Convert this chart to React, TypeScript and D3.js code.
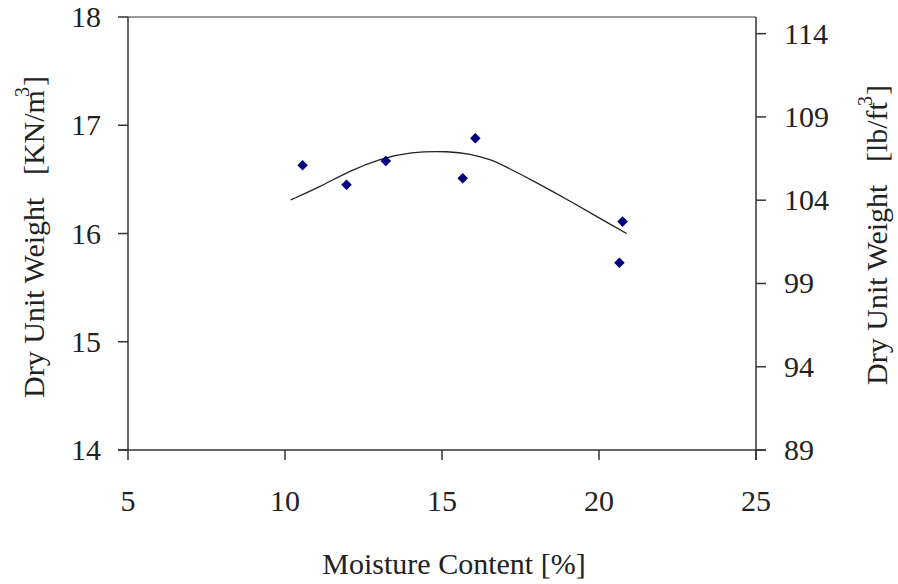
import * as d3 from "d3";

// moisture content [%] vs dry unit weight [kN/m3]
const moisture = [10.56, 11.96, 13.21, 15.66, 16.06, 20.65, 20.75];
const dryWeight = [16.63, 16.45, 16.67, 16.51, 16.88, 15.73, 16.11];

// trend curve
const trendX = [10.18, 11.11, 12.07, 13.03, 13.98, 15.25, 15.89, 16.53, 16.95, 18.02, 19.08, 20.14, 20.88];
const trendY = [16.31, 16.43, 16.58, 16.69, 16.755, 16.76, 16.735, 16.685, 16.63, 16.47, 16.3, 16.12, 16.0];

const xTicks = [5, 10, 15, 20, 25];
const leftTicks = [14, 15, 16, 17, 18];
const rightTicks = [89, 94, 99, 104, 109, 114];

const W = 898;
const H = 584;
const L = 128;
const R = 756;
const T = 17;
const B = 450;
const FONT = "'Liberation Serif', 'Times New Roman', serif";
const INK = "#222";

const x = d3.scaleLinear().domain([5, 25]).range([L, R]);
const y = d3.scaleLinear().domain([14, 18]).range([B, T]);
const y2 = d3.scaleLinear().domain([89, 115]).range([B, T]);

const trend = d3
  .line<number>()
  .x((d) => x(d))
  .y((_, i) => y(trendY[i]))
  .curve(d3.curveBasis);

const diamond = d3.symbol().type(d3.symbolSquare).size(56)();

export default function App() {
  return (
    <svg
      width={W}
      height={H}
      viewBox={`0 0 ${W} ${H}`}
      style={{ position: "absolute", left: 0, top: 0, background: "#fff" }}
      fontFamily={FONT}
    >
      {/* frame */}
      <line x1={L} x2={R} y1={T} y2={T} stroke="#777" strokeWidth={1.5} />
      <line x1={L - 10} x2={R + 10} y1={B} y2={B} stroke="#333" strokeWidth={1.5} />
      <line x1={L} x2={L} y1={T} y2={B} stroke="#333" strokeWidth={1.5} />
      <line x1={R} x2={R} y1={T} y2={B + 10} stroke="#333" strokeWidth={1.5} />

      {/* x axis */}
      {xTicks.map((t) => (
        <g key={`x${t}`}>
          <line x1={x(t)} x2={x(t)} y1={B} y2={B + 10} stroke="#333" strokeWidth={1.5} />
          <text x={x(t)} y={511} textAnchor="middle" fontSize={30} fill={INK}>
            {t}
          </text>
        </g>
      ))}
      <text x={454} y={574} textAnchor="middle" fontSize={30} fill={INK}>
        Moisture Content [%]
      </text>

      {/* left axis */}
      {leftTicks.map((t) => (
        <g key={`l${t}`}>
          <line x1={L - 10} x2={L} y1={y(t)} y2={y(t)} stroke="#333" strokeWidth={1.5} />
          <text x={101} y={y(t) + 10} textAnchor="end" fontSize={30} fill={INK}>
            {t}
          </text>
        </g>
      ))}
      <text
        transform={`translate(44,237) rotate(-90)`}
        textAnchor="middle"
        fontSize={30}
        fill={INK}
        style={{ whiteSpace: "pre" }}
      >
        {"Dry Unit Weight   [KN/m"}
        <tspan dy={-15} dx={-7} fontSize={20}>3</tspan>
        <tspan dy={15} dx={1}>]</tspan>
      </text>

      {/* right axis */}
      {rightTicks.map((t) => (
        <g key={`r${t}`}>
          <line x1={R} x2={R + 10} y1={y2(t)} y2={y2(t)} stroke="#333" strokeWidth={1.5} />
          <text x={784} y={y2(t) + 10} textAnchor="start" fontSize={30} fill={INK}>
            {t}
          </text>
        </g>
      ))}
      <text
        transform={`translate(887,235) rotate(-90)`}
        textAnchor="middle"
        fontSize={30}
        fill={INK}
        style={{ whiteSpace: "pre" }}
      >
        {"Dry Unit Weight   [lb/ft"}
        <tspan dy={-15} dx={-4} fontSize={20}>3</tspan>
        <tspan dy={15} dx={1}>]</tspan>
      </text>

      {/* trend line */}
      <path d={trend(trendX) ?? ""} fill="none" stroke="#222" strokeWidth={1.3} />

      {/* data points */}
      {moisture.map((m, i) => (
        <path
          key={`p${i}`}
          d={diamond}
          transform={`translate(${x(m)},${y(dryWeight[i])}) rotate(45)`}
          fill="#000080"
        />
      ))}
    </svg>
  );
}
